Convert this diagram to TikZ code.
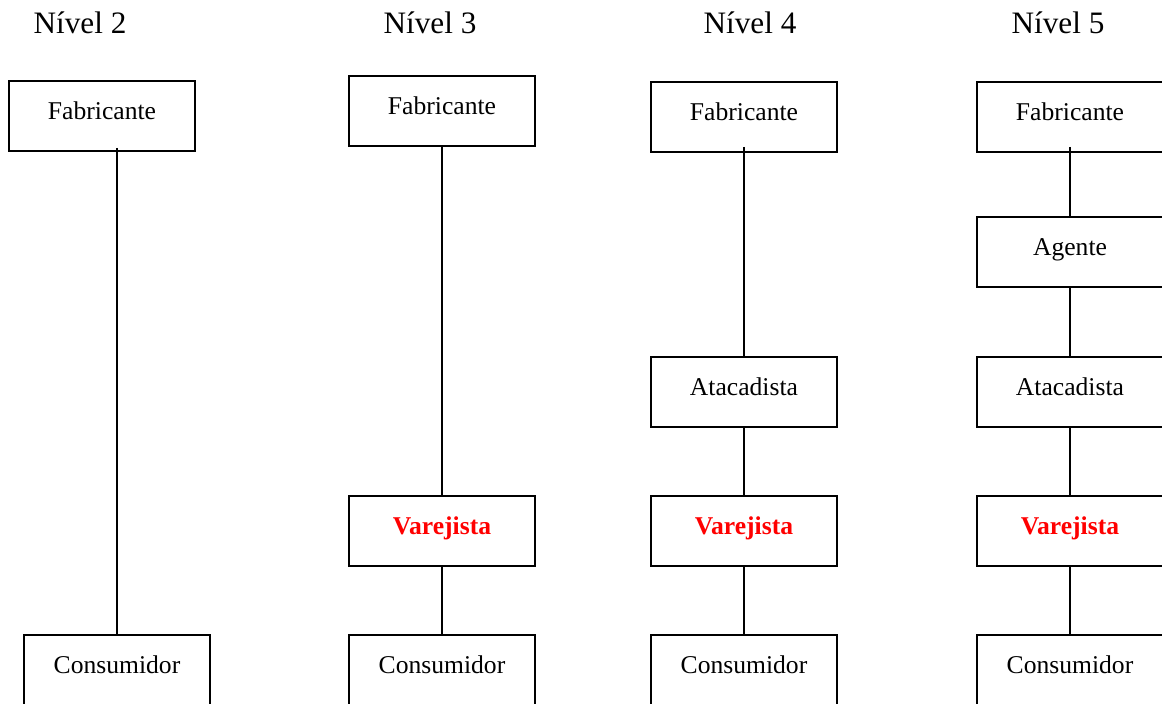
\documentclass[tikz,border=0pt]{standalone}
\usepackage{fontspec}
\setmainfont{Liberation Serif}
\usepackage{tikz}

\begin{document}
\begin{tikzpicture}[x=0.5pt, y=-0.5pt, line width=1pt,
  box/.style = {draw, minimum width=93pt, minimum height=35pt, inner sep=0pt, text height=9pt, text depth=5pt, font=\fontsize{12.8}{15}\selectfont},
  red/.style = {text=red, font=\fontsize{12.8}{15}\selectfont\bfseries},
  title/.style = {anchor=base, font=\fontsize{15.6}{18}\selectfont}]
\useasboundingbox (0,0) rectangle (1162,704);
\clip (0,0) rectangle (1162,704);
% titles
\node[title] (t2) at (80,34) {Nível 2};
\node[title] (t3) at (430,34) {Nível 3};
\node[title] (t4) at (750,34) {Nível 4};
\node[title] (t5) at (1058,34) {Nível 5};
% Nivel 2
\node[box] (f2) at (102,116) {Fabricante};
\node[box] (c2) at (117,670) {Consumidor};
\draw ([yshift=2pt]c2.north |- f2.south) -- (c2.north);
% Nivel 3
\node[box] (f3) at (442,111) {Fabricante};
\node[box, red] (v3) at (442,531) {Varejista};
\node[box] (c3) at (442,670) {Consumidor};
\draw (f3) -- (v3);
\draw (v3) -- (c3);
% Nivel 4
\node[box] (f4) at (744,117) {Fabricante};
\node[box] (a4) at (744,392) {Atacadista};
\node[box, red] (v4) at (744,531) {Varejista};
\node[box] (c4) at (744,670) {Consumidor};
\draw ([yshift=3pt]f4.south) -- (a4.north);
\draw (a4) -- (v4);
\draw (v4) -- (c4);
% Nivel 5
\node[box] (f5) at (1070,117) {Fabricante};
\node[box] (g5) at (1070,252) {Agente};
\node[box] (a5) at (1070,392) {Atacadista};
\node[box, red] (v5) at (1070,531) {Varejista};
\node[box] (c5) at (1070,670) {Consumidor};
\draw ([yshift=3pt]f5.south) -- (g5.north);
\draw (g5) -- (a5);
\draw (a5) -- (v5);
\draw (v5) -- (c5);
\end{tikzpicture}
\end{document}
